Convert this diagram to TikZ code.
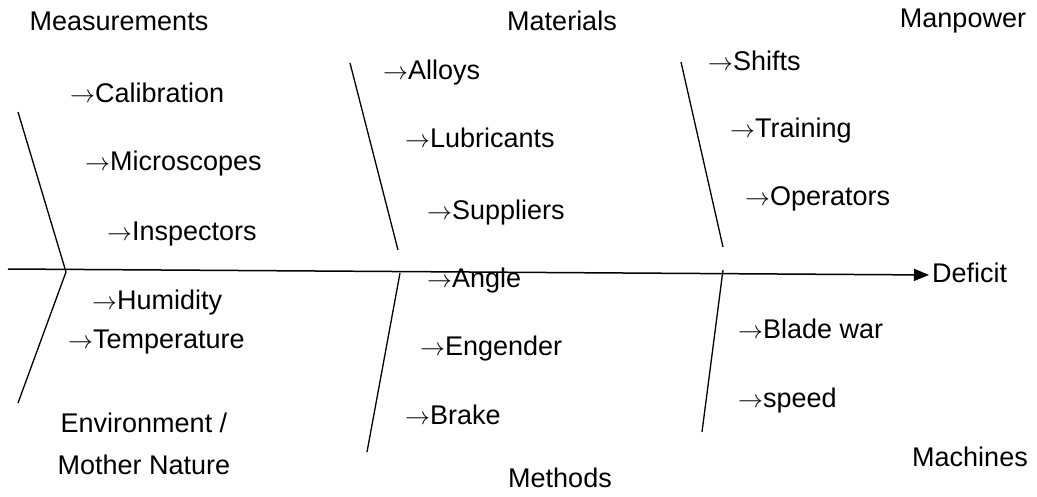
\documentclass[tikz,border=0pt]{standalone}
\usepackage{fontspec}
\setmainfont{Liberation Sans}
\usetikzlibrary{arrows.meta}

\newcommand{\toarr}{$\rightarrow$}

\tikzset{
  bone/.style={black,line width=1.3pt},
  cause/.style={black,anchor=west,inner sep=0pt,text height=17pt,text depth=2pt},
  head/.style={black,inner sep=0pt,align=center}
}

\begin{document}
\begin{tikzpicture}[x=1pt,y=-1pt,font=\fontsize{27}{42}\selectfont]
  \useasboundingbox (0,0) rectangle (1037,496);

  % The spine, ending at the effect.
  \node[cause] (deficit) at (932,275) {Deficit};
  \coordinate (tail) at (8,269);
  \draw[black,line width=1.5pt,-{Triangle[length=15pt,width=12pt]},shorten >=3pt] (tail) -- (deficit.west);

  % Bones on the left.
  \draw[bone] (18,112) -- (66,272) -- (18,403);

  % Bones in the middle.
  \draw[bone] (350,63) -- (398,250);
  \draw[bone] (400,273) -- (367,452);

  % Bones on the right.
  \draw[bone] (681,62) -- (723,247);
  \draw[bone] (723,270) -- (702,432);

  % Category names
  \node[head] (meas) at (119,21) {Measurements};
  \node[head] (mat)  at (562,21) {Materials};
  \node[head] (man)  at (963,21) {Manpower};
  \node[head] (env)  at (144,444) {Environment /\\Mother Nature};
  \node[head] (meth) at (560,478) {Methods};
  \node[head] (mach) at (970,457) {Machines};

  % Causes on the left
  \node[cause] (calib) at (70,95)  {\toarr Calibration};
  \node[cause] (micro) at (85,163) {\toarr Microscopes};
  \node[cause] (insp)  at (107,233) {\toarr Inspectors};
  \node[cause] (humid) at (92,302) {\toarr Humidity};
  \node[cause] (temp)  at (68,341) {\toarr Temperature};

  % Causes in the middle
  \node[cause] (alloy) at (383,72)  {\toarr Alloys};
  \node[cause] (lubr)  at (405,140) {\toarr Lubricants};
  \node[cause] (supp)  at (427,212) {\toarr Suppliers};
  \node[cause] (angle) at (427,280) {\toarr Angle};
  \node[cause] (eng)   at (420,348) {\toarr Engender};
  \node[cause] (brake) at (405,417) {\toarr Brake};

  % Causes on the right
  \node[cause] (shift) at (708,63)  {\toarr Shifts};
  \node[cause] (train) at (730,130) {\toarr Training};
  \node[cause] (oper)  at (745,198) {\toarr Operators};
  \node[cause] (blade) at (738,331) {\toarr Blade war};
  \node[cause] (speed) at (738,400) {\toarr speed};

\end{tikzpicture}
\end{document}
